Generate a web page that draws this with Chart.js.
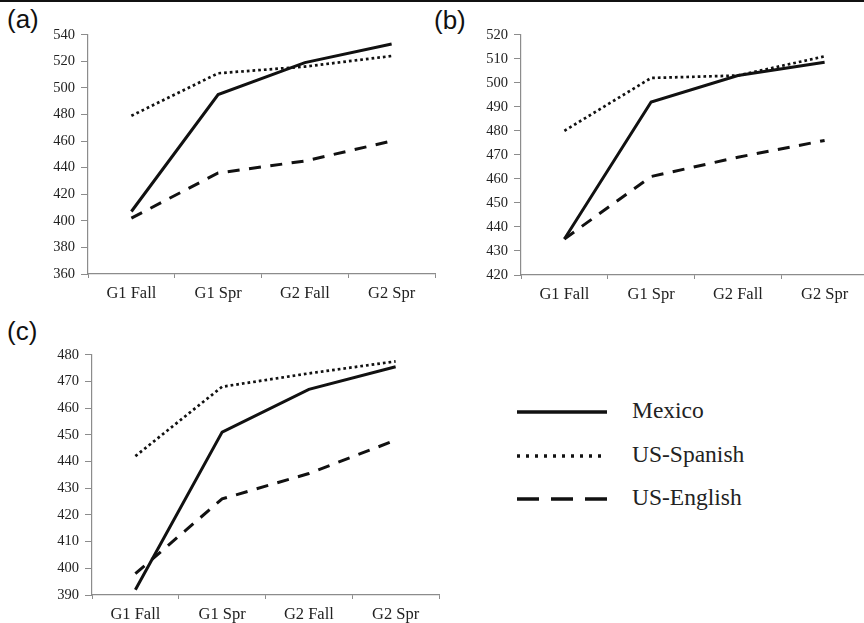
<!DOCTYPE html>
<html>
<head>
<meta charset="utf-8">
<script src="https://cdn.jsdelivr.net/npm/chart.js@4/dist/chart.umd.min.js"></script>
<style>
  html, body { margin: 0; padding: 0; background: #fff; overflow: hidden; }
  body { width: 864px; height: 623px; position: relative; }
  .rule { position: absolute; left: 0; top: 0; width: 864px; height: 2px; background: #111; }
  .panel { position: absolute; }
  .tag { position: absolute; font-family: "Liberation Sans", Arial, sans-serif; font-size: 26px; line-height: 26px; color: #111; }
  .legend { position: absolute; left: 516px; top: 396px; font-family: "Liberation Serif", "Times New Roman", serif; font-size: 23.5px; color: #222; }
  .legend .row { position: absolute; left: 0; height: 30px; width: 260px; }
  .legend svg { position: absolute; left: 0; top: 0; }
  .legend span { position: absolute; left: 116px; top: 1px; white-space: nowrap; }
</style>
</head>
<body>
<div class="rule"></div>
<div class="tag" style="left:7px; top:6px;">(a)</div>
<div class="tag" style="left:434px; top:7px;">(b)</div>
<div class="tag" style="left:7px; top:318px;">(c)</div>
<canvas id="chartA" class="panel" style="left:30px; top:20px;" width="410" height="290"></canvas>
<canvas id="chartB" class="panel" style="left:463px; top:20px;" width="410" height="291"></canvas>
<canvas id="chartC" class="panel" style="left:34px; top:340px;" width="410" height="291"></canvas>
<div class="legend" id="legend"></div>
<script>
const categories = ['G1 Fall', 'G1 Spr', 'G2 Fall', 'G2 Spr'];
const seriesNames = ['Mexico', 'US-Spanish', 'US-English'];

// (a)
const mexicoA = [407, 495, 519, 533];
const usSpanishA = [479, 511, 516, 524];
const usEnglishA = [402, 436, 445, 460];
const yRangeA = [360, 540, 20];

// (b)
const mexicoB = [435, 492, 503, 508.5];
const usSpanishB = [480, 502, 503, 511];
const usEnglishB = [435, 461, 469, 476];
const yRangeB = [420, 520, 10];

// (c)
const mexicoC = [392, 451, 467, 475.5];
const usSpanishC = [442, 468, 473, 477.5];
const usEnglishC = [398, 426, 435.5, 448];
const yRangeC = [390, 480, 10];

const lineColor = '#111';
const axisColor = '#8c8c8c';
const lineStyles = [
  { dash: [], width: 3, legendDash: 'none' },
  { dash: [2.7, 3], width: 2.7, legendDash: '3,6' },
  { dash: [12, 9.5], width: 3, legendDash: '22,12' }
];

makeChart = (id, values, yRange) => {
  const datasets = values.map((vals, i) => ({
    label: seriesNames[i],
    data: vals,
    borderColor: lineColor,
    borderWidth: lineStyles[i].width,
    borderDash: lineStyles[i].dash,
    pointRadius: 0,
    tension: 0,
    fill: false
  }));
  return new Chart(document.getElementById(id), {
    type: 'line',
    data: { labels: categories, datasets: datasets },
    options: {
      responsive: false,
      animation: false,
      events: [],
      layout: { padding: { top: 14, right: 5, left: 0, bottom: 0 } },
      plugins: { legend: { display: false }, tooltip: { enabled: false } },
      scales: {
        x: {
          offset: true,
          grid: { offset: true, drawOnChartArea: false, drawTicks: true, tickLength: 4, color: axisColor },
          border: { display: true, color: axisColor, width: 1.2 },
          ticks: { color: '#222', padding: 6, maxRotation: 0, font: { family: 'Liberation Serif', size: 16.5 } },
          afterFit: (scale) => { scale.height = 36; }
        },
        y: {
          min: yRange[0],
          max: yRange[1],
          ticks: { stepSize: yRange[2], color: '#222', padding: 6, font: { family: 'Liberation Serif', size: 14.5 } },
          grid: { drawOnChartArea: false, drawTicks: true, tickLength: 7, color: axisColor },
          border: { display: true, color: axisColor, width: 1.2 },
          afterFit: (scale) => { scale.width = 58; }
        }
      }
    }
  });
}

makeChart('chartA', [mexicoA, usSpanishA, usEnglishA], yRangeA);
makeChart('chartB', [mexicoB, usSpanishB, usEnglishB], yRangeB);
makeChart('chartC', [mexicoC, usSpanishC, usEnglishC], yRangeC);

// legend, built from the series names and line styles
const legend = document.getElementById('legend');
seriesNames.forEach((name, i) => {
  const row = document.createElement('div');
  row.className = 'row';
  row.style.top = (i * 43.5) + 'px';
  row.innerHTML = '<svg width="95" height="30"><line x1="1" y1="16" x2="91" y2="16" stroke="' + lineColor +
    '" stroke-width="3.4" stroke-dasharray="' + lineStyles[i].legendDash + '"/></svg><span>' + name + '</span>';
  legend.appendChild(row);
});
</script>
</body>
</html>
